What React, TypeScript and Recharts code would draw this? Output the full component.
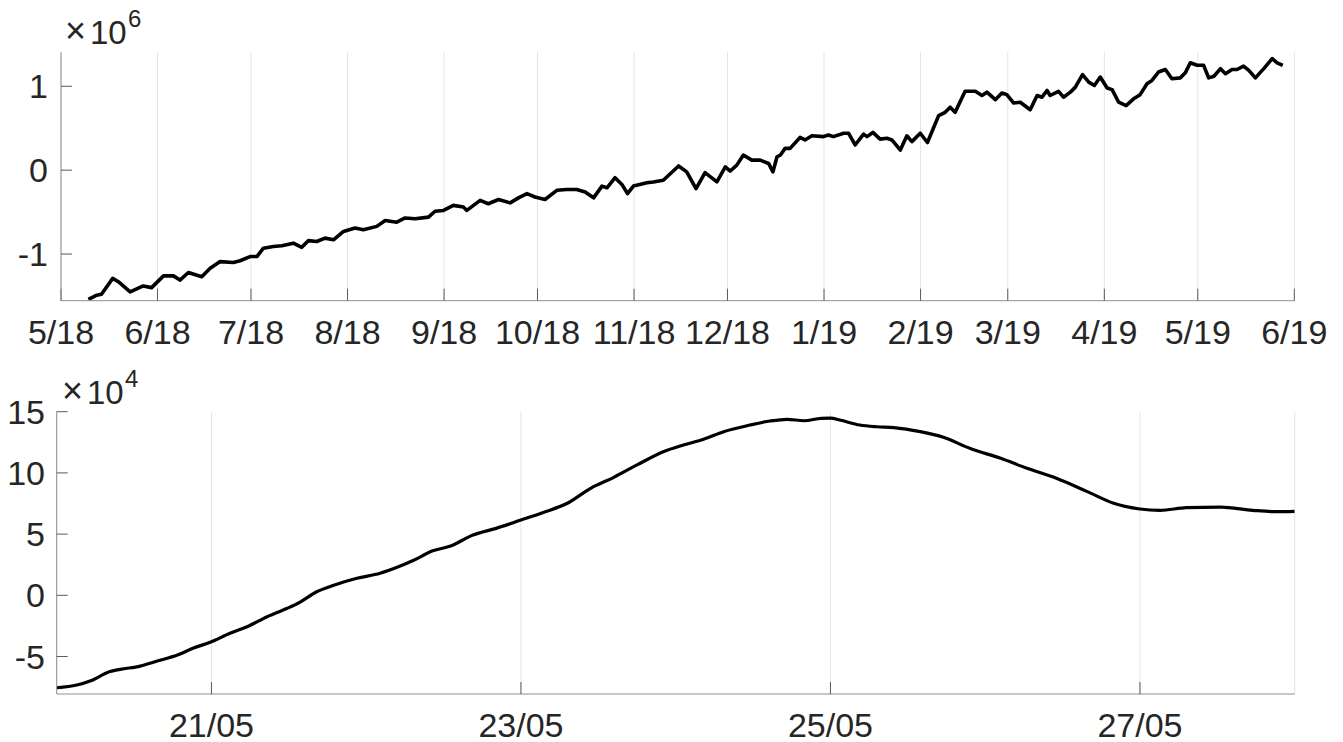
import React from "react";
import { LineChart, Line, XAxis, YAxis, CartesianGrid } from "recharts";

// top panel: days since 1 May 2018, values in units of 1e6
const topDays = [
    8.8, 11.5, 13, 14.7, 16.6, 18.4, 22.2, 26.4, 29.1, 32.9, 36.1, 38.2, 40.9, 45.2, 47.9, 51.1, 55.3, 57.5,
    60.7, 62.9, 65, 68.2, 70.9, 74.6, 77.3, 79.4, 82.1, 84.8, 87.5, 90.7, 94.4, 97.1, 101.4, 104.1, 107.8,
    110.5, 113.7, 118, 120.1, 122.8, 126, 129.2, 130.3, 134.6, 137.2, 140.5, 144.2, 146.9, 149.6, 152.2,
    155.4, 159.2, 162.4, 165.6, 168.3, 171, 173.7, 175.3, 177.9, 180.1, 181.9, 183.8, 188.1, 190.2, 193.4,
    198.3, 200.9, 203.9, 206.8, 210.6, 213.3, 214.9, 217, 219.1, 221.8, 224.5, 227.2, 228.6, 229.9, 231,
    232.5, 234.1, 237.3, 238.9, 241.1, 244.8, 246.4, 248, 251.3, 252.9, 255, 257.7, 258.8, 260.7, 263,
    265.2, 266.8, 269.5, 271.6, 273.2, 275.9, 278.2, 281.8, 283.9, 285.5, 287.1, 290.3, 293.6, 295.7,
    297.3, 300, 302.1, 303.7, 305.9, 308, 311.2, 313.4, 315, 316.6, 317.6, 320.3, 321.9, 324.1, 325.7,
    328, 330, 331.8, 333.7, 335.9, 337.5, 339.6, 342, 344.4, 346.5, 348.7, 350.3, 352.4, 354.6, 356.7,
    359.4, 361, 362.6, 364.8, 366.9, 368.5, 370.2, 372.3, 373.9, 376, 377.6, 379.7, 381.4, 383.5, 386.2,
    388.9, 390.5, 392.3,
];
const topValues = [
    -1.54, -1.49, -1.48, -1.39, -1.29, -1.33, -1.45, -1.38, -1.4, -1.26, -1.26, -1.31, -1.22, -1.27, -1.17,
    -1.09, -1.1, -1.08, -1.03, -1.03, -0.93, -0.91, -0.9, -0.87, -0.92, -0.84, -0.85, -0.81, -0.83, -0.73,
    -0.69, -0.71, -0.67, -0.6, -0.62, -0.57, -0.58, -0.56, -0.49, -0.48, -0.42, -0.44, -0.48, -0.36, -0.4,
    -0.35, -0.39, -0.33, -0.28, -0.32, -0.35, -0.24, -0.23, -0.23, -0.26, -0.33, -0.19, -0.21, -0.09, -0.17,
    -0.28, -0.19, -0.15, -0.14, -0.12, 0.05, -0.02, -0.22, -0.03, -0.14, 0.04, -0.01, 0.06, 0.18, 0.12,
    0.12, 0.08, -0.02, 0.16, 0.18, 0.26, 0.26, 0.39, 0.36, 0.41, 0.4, 0.42, 0.4, 0.44, 0.44, 0.3, 0.43,
    0.4, 0.45, 0.37, 0.38, 0.36, 0.24, 0.41, 0.34, 0.44, 0.33, 0.65, 0.69, 0.75, 0.69, 0.94, 0.94, 0.89,
    0.93, 0.84, 0.92, 0.9, 0.8, 0.81, 0.72, 0.89, 0.87, 0.95, 0.89, 0.94, 0.87, 0.93, 0.99, 1.14, 1.05,
    1.01, 1.11, 0.98, 0.96, 0.81, 0.77, 0.85, 0.9, 1.03, 1.07, 1.17, 1.2, 1.09, 1.1, 1.16, 1.28, 1.25,
    1.25, 1.1, 1.12, 1.21, 1.15, 1.2, 1.2, 1.24, 1.19, 1.1, 1.21, 1.33, 1.28, 1.25,
];
const topTickDays = [0, 31, 61, 92, 123, 153, 184, 214, 245, 276, 304, 335, 365, 396];
const topTickLabels = ["5/18", "6/18", "7/18", "8/18", "9/18", "10/18", "11/18", "12/18", "1/19", "2/19", "3/19", "4/19", "5/19", "6/19"];
const topYTicks = [-1, 0, 1];

// bottom panel: days since 20/05, values in units of 1e4
const bottomDays = [
    0, 0.13, 0.22, 0.34, 0.41, 0.54, 0.65, 0.78, 0.88, 1.0, 1.12, 1.23, 1.36, 1.49, 1.57, 1.68, 1.79, 1.94,
    2.09, 2.22, 2.31, 2.43, 2.54, 2.69, 2.84, 3.0, 3.14, 3.3, 3.45, 3.6, 3.75, 3.92, 4.05, 4.18, 4.31, 4.48,
    4.61, 4.72, 4.83, 4.94, 5.0, 5.06, 5.19, 5.3, 5.41, 5.58, 5.73, 5.9, 6.1, 6.27, 6.46, 6.66, 6.83, 7.0,
    7.13, 7.3, 7.52, 7.73, 7.88, 8.0,
];
const bottomValues = [
    -7.55, -7.33, -6.98, -6.24, -6.05, -5.78, -5.37, -4.88, -4.33, -3.79, -3.1, -2.57, -1.75, -1.06, -0.57,
    0.29, 0.82, 1.39, 1.8, 2.39, 2.88, 3.64, 4.0, 4.93, 5.47, 6.15, 6.75, 7.52, 8.74, 9.64, 10.65, 11.73,
    12.28, 12.75, 13.37, 13.91, 14.24, 14.38, 14.26, 14.46, 14.48, 14.32, 13.91, 13.77, 13.7, 13.37, 12.91,
    12.01, 11.19, 10.38, 9.56, 8.47, 7.52, 7.05, 6.94, 7.16, 7.21, 6.94, 6.83, 6.86,
];
const bottomTickDays = [1, 3, 5, 7];
const bottomTickLabels = ["21/05", "23/05", "25/05", "27/05"];
const bottomYTicks = [-5, 0, 5, 10, 15];

const topData = topDays.map((d, i) => ({ day: d, value: topValues[i] }));
const bottomData = bottomDays.map((d, i) => ({ day: d, value: bottomValues[i] }));

const FONT = "'Liberation Sans', Arial, Helvetica, sans-serif";
const TEXT = "#262626";
const FRAME = "#8f8f8f";
const TICK = "#5a5a5a";
const GRID = "#e4e4e4";
const tickStyle = { fontSize: 34, fill: TEXT, fontFamily: FONT };

// "×10^n" multiplier drawn above the y axis, MATLAB style
function ExponentLabel({ x, y, exp }: { x: number; y: number; exp: string }) {
    return (
        <svg width={120} height={60} style={{ position: "absolute", left: x, top: y, overflow: "visible" }}>
            <g fontFamily={FONT} fill={TEXT}>
                <text x={-1} y={43} fontSize={36}>×</text>
                <text x={24} y={44} fontSize={33}>10</text>
                <text x={62} y={27} fontSize={24}>{exp}</text>
            </g>
        </svg>
    );
}

export default function App() {
    const topLabel = (v: number) => topTickLabels[topTickDays.indexOf(v)] ?? "";
    const bottomLabel = (v: number) => bottomTickLabels[bottomTickDays.indexOf(v)] ?? "";
    return (
        <div style={{ position: "relative", width: 1343, height: 742, background: "#fff", fontFamily: FONT, overflow: "hidden" }}>
            <style>{"body{margin:0;background:#fff}"}</style>

            <div style={{ position: "absolute", left: 0, top: 0 }}>
                <LineChart width={1343} height={360} data={topData} margin={{ top: 52.3, right: 48.7, bottom: 20, left: 0 }}>
                    <CartesianGrid horizontal={false} stroke={GRID} strokeWidth={1} />
                    <XAxis
                        dataKey="day"
                        type="number"
                        domain={[0, 396]}
                        ticks={topTickDays}
                        interval={0}
                        tickFormatter={topLabel}
                        height={39.3}
                        tickSize={-12}
                        tickMargin={31.5}
                        axisLine={{ stroke: FRAME }}
                        tickLine={{ stroke: TICK }}
                        tick={tickStyle}
                        allowDataOverflow
                    />
                    <XAxis
                        xAxisId="top"
                        orientation="top"
                        dataKey="day"
                        type="number"
                        domain={[0, 396]}
                        ticks={topTickDays}
                        interval={0}
                        height={0}
                        tickSize={-12}
                        tick={false}
                        axisLine={{ stroke: FRAME }}
                        tickLine={{ stroke: TICK }}
                        allowDataOverflow
                    />
                    <YAxis
                        type="number"
                        domain={[-1.556, 1.405]}
                        ticks={topYTicks}
                        interval={0}
                        width={61}
                        tickSize={-11}
                        tickMargin={24}
                        axisLine={{ stroke: FRAME }}
                        tickLine={{ stroke: TICK }}
                        tick={tickStyle}
                        allowDataOverflow
                    />
                    <YAxis
                        yAxisId="right"
                        orientation="right"
                        type="number"
                        domain={[-1.556, 1.405]}
                        ticks={topYTicks}
                        interval={0}
                        width={0}
                        tickSize={-11}
                        tick={false}
                        axisLine={{ stroke: FRAME }}
                        tickLine={{ stroke: TICK }}
                        allowDataOverflow
                    />
                    <Line
                        type="linear"
                        dataKey="value"
                        stroke="#000"
                        strokeWidth={3.6}
                        strokeLinejoin="round"
                        dot={false}
                        isAnimationActive={false}
                    />
                </LineChart>
                <ExponentLabel x={66} y={0} exp="6" />
            </div>

            <div style={{ position: "absolute", left: 0, top: 360 }}>
                <LineChart width={1343} height={382} data={bottomData} margin={{ top: 51.7, right: 48.3, bottom: 0, left: 0 }}>
                    <CartesianGrid horizontal={false} stroke={GRID} strokeWidth={1} />
                    <XAxis
                        dataKey="day"
                        type="number"
                        domain={[0, 8]}
                        ticks={bottomTickDays}
                        interval={0}
                        tickFormatter={bottomLabel}
                        height={48}
                        tickSize={-12}
                        tickMargin={31}
                        axisLine={{ stroke: FRAME }}
                        tickLine={{ stroke: TICK }}
                        tick={tickStyle}
                        allowDataOverflow
                    />
                    <XAxis
                        xAxisId="top"
                        orientation="top"
                        dataKey="day"
                        type="number"
                        domain={[0, 8]}
                        ticks={bottomTickDays}
                        interval={0}
                        height={0}
                        tickSize={-12}
                        tick={false}
                        axisLine={{ stroke: FRAME }}
                        tickLine={{ stroke: TICK }}
                        allowDataOverflow
                    />
                    <YAxis
                        type="number"
                        domain={[-8.06, 15]}
                        ticks={bottomYTicks}
                        interval={0}
                        width={56.7}
                        tickSize={-11}
                        tickMargin={22.7}
                        axisLine={{ stroke: FRAME }}
                        tickLine={{ stroke: TICK }}
                        tick={tickStyle}
                        allowDataOverflow
                    />
                    <YAxis
                        yAxisId="right"
                        orientation="right"
                        type="number"
                        domain={[-8.06, 15]}
                        ticks={bottomYTicks}
                        interval={0}
                        width={0}
                        tickSize={-11}
                        tick={false}
                        axisLine={{ stroke: FRAME }}
                        tickLine={{ stroke: TICK }}
                        allowDataOverflow
                    />
                    <Line
                        type="monotone"
                        dataKey="value"
                        stroke="#000"
                        strokeWidth={3.2}
                        dot={false}
                        isAnimationActive={false}
                    />
                </LineChart>
                <ExponentLabel x={63} y={0} exp="4" />
            </div>
        </div>
    );
}
